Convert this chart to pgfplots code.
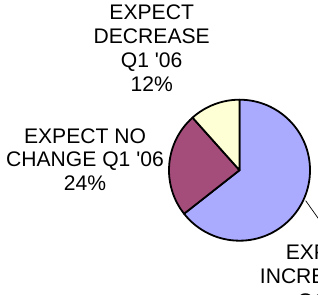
\documentclass[border=0pt]{standalone}
\usepackage{fontspec}
\setmainfont{Liberation Sans}
\usepackage{pgfplots}
\pgfplotsset{compat=1.18}
\usepackage{pgfplotstable}
\definecolor{incr}{HTML}{AAAAFF}
\definecolor{nochg}{HTML}{A54D7A}
\definecolor{decr}{HTML}{FFFFD5}
\newcommand{\lf}{\fontsize{21.1}{24}\selectfont}
\newcommand{\q}{\textquotesingle}
\pgfplotstableread{
label value
Increase 64.4
NoChange 24.0
Decrease 11.6
}\piedata
\begin{document}%
\begin{tikzpicture}[lbl/.style={font=\lf,inner sep=0pt}]
\pgfplotstablegetelem{0}{value}\of\piedata \let\vA\pgfplotsretval
\pgfplotstablegetelem{1}{value}\of\piedata \let\vB\pgfplotsretval
\pgfplotstablegetelem{2}{value}\of\piedata \let\vC\pgfplotsretval
\pgfmathsetmacro\aA{90}
\pgfmathsetmacro\aB{90-3.6*\vA}
\pgfmathsetmacro\aC{\aB-3.6*\vB}
\pgfmathsetmacro\aD{\aC-3.6*\vC}
\useasboundingbox (0,0) rectangle (318pt,294pt);
\begin{scope}
\clip (0,0) rectangle (318pt,294pt);
\begin{axis}[width=318pt,height=294pt,scale only axis,hide axis,
  axis lines=none,xtick=\empty,ytick=\empty,
  anchor=south west,at={(0,0)},
  xmin=0,xmax=318,ymin=0,ymax=294,clip=false]
\filldraw[fill=incr,draw=black,line width=1.8pt,line join=round]
  (axis cs:239.5,123.8) -- ++(\aA:70.5pt) arc[start angle=\aA,end angle=\aB,radius=70.5pt] -- cycle;
\filldraw[fill=nochg,draw=black,line width=1.8pt,line join=round]
  (axis cs:239.5,123.8) -- ++(\aB:70.5pt) arc[start angle=\aB,end angle=\aC,radius=70.5pt] -- cycle;
\filldraw[fill=decr,draw=black,line width=1.8pt,line join=round]
  (axis cs:239.5,123.8) -- ++(\aC:70.5pt) arc[start angle=\aC,end angle=\aD,radius=70.5pt] -- cycle;
\draw[black,line width=0.7pt] (axis cs:305.7,93.3) -- (axis cs:330,59);
% top label
\node[lbl,anchor=base] at (axis cs:151.7,274) {EXPECT};
\node[lbl,anchor=base] at (axis cs:151.7,250) {DECREASE};
\node[lbl,anchor=base] at (axis cs:151.7,226) {Q1 \q06};
\node[lbl,anchor=base] at (axis cs:151.7,202) {12\%};
% left label
\node[lbl,anchor=base] at (axis cs:85,150.7) {EXPECT NO};
\node[lbl,anchor=base] at (axis cs:85,127) {CHANGE Q1 \q06};
\node[lbl,anchor=base] at (axis cs:85,103.5) {24\%};
% bottom label
\node[lbl,anchor=base] at (axis cs:328,34) {EXPECT};
\node[lbl,anchor=base west] at (axis cs:259.7,10) {INCREASE};
\node[lbl,anchor=base] at (axis cs:328,-14) {Q1 \q06};
\node[lbl,anchor=base] at (axis cs:328,-38) {64\%};
\end{axis}
\end{scope}
\end{tikzpicture}%
\end{document}
